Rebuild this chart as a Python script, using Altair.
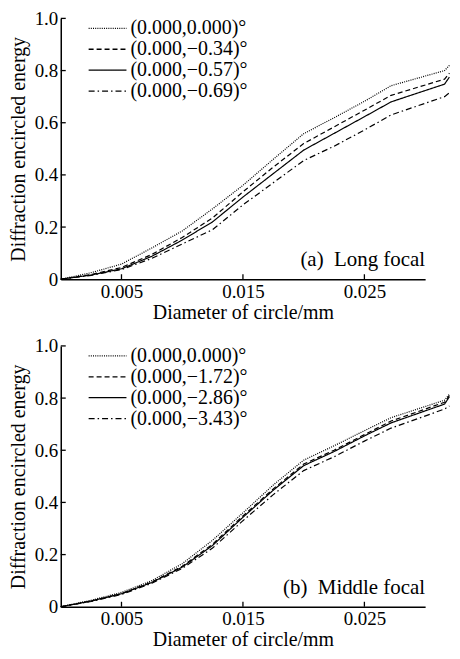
import altair as alt
import pandas as pd

FONT = "Liberation Serif"

# x grid (mm)
x_vals = [0, 0.0025, 0.005, 0.0075, 0.010, 0.0125, 0.015, 0.0175, 0.020, 0.0225, 0.025, 0.0272, 0.0316, 0.0320]

# Panel (a) Long focal
a_labels = ["(0.000,0.000)°", "(0.000,−0.34)°", "(0.000,−0.57)°", "(0.000,−0.69)°"]
a_s1 = [0, 0.025, 0.058, 0.12, 0.185, 0.27, 0.36, 0.46, 0.558, 0.619, 0.682, 0.742, 0.800, 0.820]
a_s2 = [0, 0.018, 0.045, 0.095, 0.160, 0.235, 0.335, 0.430, 0.520, 0.584, 0.648, 0.705, 0.767, 0.790]
a_s3 = [0, 0.016, 0.040, 0.088, 0.150, 0.220, 0.315, 0.405, 0.495, 0.559, 0.623, 0.680, 0.748, 0.775]
a_s4 = [0, 0.015, 0.037, 0.080, 0.135, 0.190, 0.285, 0.370, 0.455, 0.510, 0.572, 0.630, 0.700, 0.715]

# Panel (b) Middle focal
b_labels = ["(0.000,0.000)°", "(0.000,−1.72)°", "(0.000,−2.86)°", "(0.000,−3.43)°"]
b_s1 = [0, 0.025, 0.055, 0.100, 0.165, 0.255, 0.360, 0.467, 0.562, 0.617, 0.675, 0.725, 0.792, 0.815]
b_s2 = [0, 0.022, 0.050, 0.095, 0.155, 0.240, 0.348, 0.452, 0.547, 0.600, 0.660, 0.712, 0.784, 0.810]
b_s3 = [0, 0.022, 0.050, 0.093, 0.152, 0.235, 0.343, 0.447, 0.541, 0.595, 0.655, 0.705, 0.777, 0.805]
b_s4 = [0, 0.020, 0.047, 0.090, 0.147, 0.225, 0.330, 0.430, 0.522, 0.575, 0.635, 0.685, 0.758, 0.770]

x_ticks = [0.005, 0.015, 0.025]
y_ticks = [0, 0.2, 0.4, 0.6, 0.8, 1.0]
dashes = [[1, 1.2], [5, 3], [1, 0], [6, 3, 1.5, 3]]

W, H = 366, 262

XAXIS = alt.Axis(
    title="Diameter of circle/mm", values=x_ticks, format=".3f",
    labelFont=FONT, labelFontSize=19, labelColor="black",
    titleFont=FONT, titleFontSize=20, titleFontWeight="normal", titleColor="black",
    domainColor="black", domainWidth=1.5, ticks=False, grid=False,
    labelPadding=3, titlePadding=1)
YAXIS = alt.Axis(
    title="Diffraction encircled energy", values=y_ticks,
    labelExpr="datum.value == 0 ? '0' : format(datum.value, '.1f')",
    labelFont=FONT, labelFontSize=19, labelColor="black",
    titleFont=FONT, titleFontSize=20, titleFontWeight="normal", titleColor="black",
    domainColor="black", domainWidth=1.5, ticks=False, grid=False,
    labelPadding=3, titlePadding=6)


def panel(series, labels, tag):
    rows = []
    for lab, ys in zip(labels, series):
        for i, (x, y) in enumerate(zip(x_vals, ys)):
            rows.append({"d": x, "e": y, "s": lab, "o": i})
    df = pd.DataFrame(rows)
    xsc = alt.Scale(domain=[0, 0.030], nice=False, zero=False)
    ysc = alt.Scale(domain=[0, 1.0], nice=False)

    lines = alt.Chart(df).mark_line(color="black", strokeWidth=1.2).encode(
        x=alt.X("d:Q", scale=xsc, axis=XAXIS),
        y=alt.Y("e:Q", scale=ysc, axis=YAXIS),
        strokeDash=alt.StrokeDash("s:N", scale=alt.Scale(domain=labels, range=dashes),
                                  legend=alt.Legend(
                                      title=None, orient="none", legendX=36, legendY=-1,
                                      symbolType="M-1.9,0H1.9", symbolSize=400,
                                      symbolStrokeWidth=1.3, symbolStrokeColor="black",
                                      labelFont=FONT, labelFontSize=20, labelColor="black",
                                      labelOffset=12, padding=0, rowPadding=-1.5)),
        order="o:Q",
    )

    xt = alt.Chart(pd.DataFrame({"d": x_ticks})).mark_rule(color="black", strokeWidth=1.3).encode(
        x=alt.X("d:Q", scale=xsc, axis=XAXIS), y=alt.value(H), y2=alt.value(H - 5))
    yt = alt.Chart(pd.DataFrame({"e": y_ticks[1:]})).mark_rule(color="black", strokeWidth=1.3).encode(
        y=alt.Y("e:Q", scale=ysc, axis=YAXIS), x=alt.value(0), x2=alt.value(5))
    ann = alt.Chart(pd.DataFrame({"t": [tag]})).mark_text(
        align="right", baseline="alphabetic", font=FONT, fontSize=21, color="black").encode(
        text="t:N", x=alt.value(W), y=alt.value(H - 13))

    return alt.layer(lines, xt, yt, ann).properties(width=W, height=H)


top = panel([a_s1, a_s2, a_s3, a_s4], a_labels, "(a)\u00a0 Long focal")
bottom = panel([b_s1, b_s2, b_s3, b_s4], b_labels, "(b)\u00a0 Middle focal")

chart = alt.vconcat(top, bottom, spacing=15).resolve_scale(
    strokeDash="independent", x="independent", y="independent"
).properties(
    padding={"left": 0, "top": 0, "right": 0, "bottom": 0},
    background="white",
).configure_view(stroke=None)

chart.save("out.html", embed_options={"renderer": "svg", "actions": False})
